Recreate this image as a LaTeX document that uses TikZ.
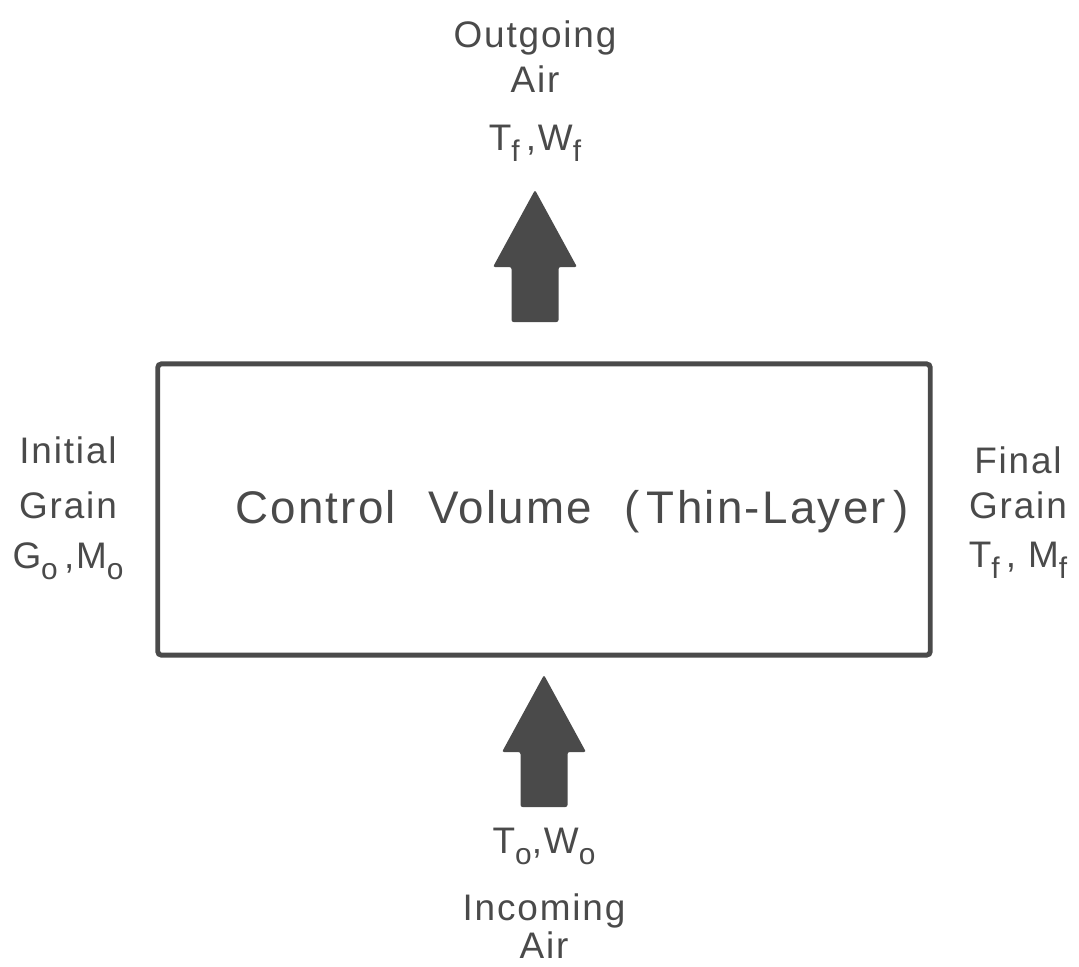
\documentclass[tikz,border=0pt]{standalone}
\usepackage{fontspec}
\setmainfont{Liberation Sans}[LetterSpace=5]
\usetikzlibrary{positioning}

\definecolor{inkgray}{HTML}{4A4A4A}
\newcommand{\lowsub}[1]{\raisebox{-0.6ex}{\fontsize{8.5}{9}\selectfont #1}}

\tikzset{
  lbl/.style={anchor=base, inner sep=0pt, text=inkgray, font=\fontsize{10.5}{12}\selectfont},
  cvtext/.style={anchor=base, inner sep=0pt, text=inkgray, font=\fontsize{13}{15}\selectfont},
  cvbox/.style={draw=inkgray, line width=1.4pt, rounded corners=1pt, minimum width=7.72cm, minimum height=2.91cm, inner sep=0pt},
  airarrow/.pic={
    \fill[inkgray, rounded corners=0.6pt] (0,0) -- (42,77) -- (23.5,77) -- (23.5,132)
      -- (-23.5,132) -- (-23.5,77) -- (-42,77) -- cycle;
  }
}

\begin{document}
\begin{tikzpicture}[x=0.01cm, y=-0.01cm]
   \useasboundingbox (0,0) rectangle (1079,966);
   % control volume
   \node[cvbox] (cv) at (544,509.5) {};
   \node[cvtext] (cvlabel) at (572,523) {Control\hspace{0.7em}Volume\hspace{0.7em}(\,Thin-Layer\,)};
   % outgoing air
   \pic (outarrow) at (535,190) {airarrow};
   \node[lbl] (outname) at (535,47) {Outgoing};
   \node[lbl] (outair) at (535,92) {Air};
   \node[lbl] (outstate) at (535,150) {T\lowsub{f}\,,W\lowsub{f}};
   % incoming air
   \pic (inarrow) at (544,675) {airarrow};
   \node[lbl] (instate) at (544,853) {T\lowsub{o},W\lowsub{o}};
   \node[lbl] (inname) at (544,920) {Incoming};
   \node[lbl] (inair) at (544,958) {Air};
   % initial grain
   \node[lbl] (initname) at (68,463) {Initial};
   \node[lbl] (initgrain) at (68,518) {Grain};
   \node[lbl] (initstate) at (68,568) {G\lowsub{o}\,,M\lowsub{o}};
   % final grain
   \node[lbl] (finname) at (1018,473) {Final};
   \node[lbl] (fingrain) at (1018,518) {Grain};
   \node[lbl] (finstate) at (1018,567) {T\lowsub{f}\,, M\lowsub{f}};
\end{tikzpicture}
\end{document}
